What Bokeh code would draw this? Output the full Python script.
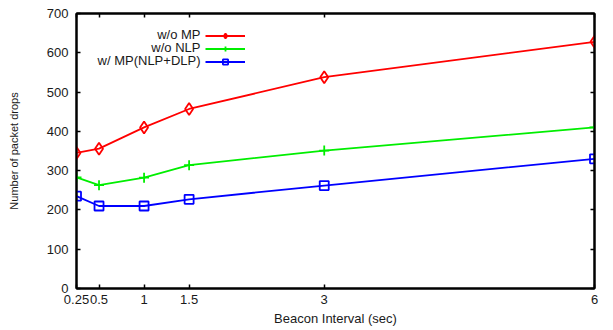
from bokeh.plotting import figure
from bokeh.models import (FixedTicker, LinearAxis, Range1d, Legend, LegendItem,
                          Label, CustomJSTickFormatter)
from bokeh.embed import file_html
from bokeh.resources import INLINE

# ---- data ----
beacon = [0.25, 0.5, 1, 1.5, 3, 6]
wo_mp = [345, 356, 410, 457, 538, 628]
wo_nlp = [283, 263, 282, 314, 351, 410]
w_mp = [235, 210, 210, 227, 262, 330]
x_ticks = [0.25, 0.5, 1, 1.5, 3, 6]
y_ticks = [0, 100, 200, 300, 400, 500, 600, 700]
names = ["w/o MP", "w/o NLP", "w/ MP(NLP+DLP)"]

FONT = "Liberation Sans"
TXT = "#1a1a1a"

p = figure(width=613, height=330, output_backend="svg", toolbar_location=None,
           x_range=Range1d(0.25, 6), y_range=Range1d(0, 700),
           min_border_left=76, min_border_right=19, min_border_top=13,
           min_border_bottom=42)
p.xgrid.visible = False
p.ygrid.visible = False
p.outline_line_color = "black"
p.outline_line_width = 2
p.background_fill_color = "white"
p.border_fill_color = "white"

fmt = CustomJSTickFormatter(code="return tick.toString();")

def style_axis(ax, ticks, show_labels):
    ax.ticker = FixedTicker(ticks=ticks)
    ax.axis_line_width = 2
    ax.axis_line_color = "black"
    ax.major_tick_in = 4
    ax.major_tick_out = 0
    ax.major_tick_line_width = 1.5
    ax.minor_tick_line_color = None
    ax.major_label_text_font = FONT
    ax.major_label_text_font_size = "13px"
    ax.major_label_text_color = TXT
    ax.axis_label_text_font = FONT
    ax.axis_label_text_font_style = "normal"
    ax.axis_label_text_color = TXT
    if not show_labels:
        ax.major_label_text_font_size = "0px"
        ax.major_label_text_color = None

xa = p.xaxis[0]
style_axis(xa, x_ticks, True)
xa.formatter = fmt
xa.major_label_standoff = 6
xa.axis_label = "Beacon Interval (sec)"
xa.axis_label_text_font_size = "13px"
xa.axis_label_standoff = 4

ya = p.yaxis[0]
style_axis(ya, y_ticks, True)
ya.major_label_standoff = 8
ya.axis_label = "Number of packet drops"
ya.axis_label_text_font_size = "11px"
ya.axis_label_standoff = 24

top = LinearAxis()
style_axis(top, x_ticks, False)
p.add_layout(top, "above")
right = LinearAxis()
style_axis(right, y_ticks, False)
p.add_layout(right, "right")

r1l = p.line(beacon, wo_mp, line_color="#ff0000", line_width=1.8)
r1m = p.scatter(beacon, wo_mp, marker="diamond", size=12, fill_color=None,
                line_color="#ff0000", line_width=1.8)
r2l = p.line(beacon, wo_nlp, line_color="#00ee00", line_width=1.8)
r2m = p.scatter(beacon, wo_nlp, marker="cross", size=10,
                line_color="#00ee00", line_width=1.8)
r3l = p.line(beacon, w_mp, line_color="#0000ff", line_width=1.8)
r3m = p.scatter(beacon, w_mp, marker="square", size=9, fill_color=None,
                line_color="#0000ff", line_width=1.8)

legend = Legend(items=[LegendItem(label=" ", renderers=[r1l, r1m]),
                       LegendItem(label=" ", renderers=[r2l, r2m]),
                       LegendItem(label=" ", renderers=[r3l, r3m])],
                location=(129, 220), glyph_width=40, glyph_height=13,
                label_width=0, label_height=0, label_standoff=0,
                label_text_font_size="1px", padding=0, spacing=0, margin=0,
                border_line_color=None, background_fill_alpha=0)
p.add_layout(legend, "center")

for i, n in enumerate(names):
    p.add_layout(Label(x=124, y=288 - 33.5 - 13.2 * i, x_units="screen",
                       y_units="screen", text=n, text_align="right",
                       text_baseline="middle", text_font=FONT,
                       text_font_size="13px", text_color=TXT))

open("out.html", "w").write(file_html(p, INLINE))
